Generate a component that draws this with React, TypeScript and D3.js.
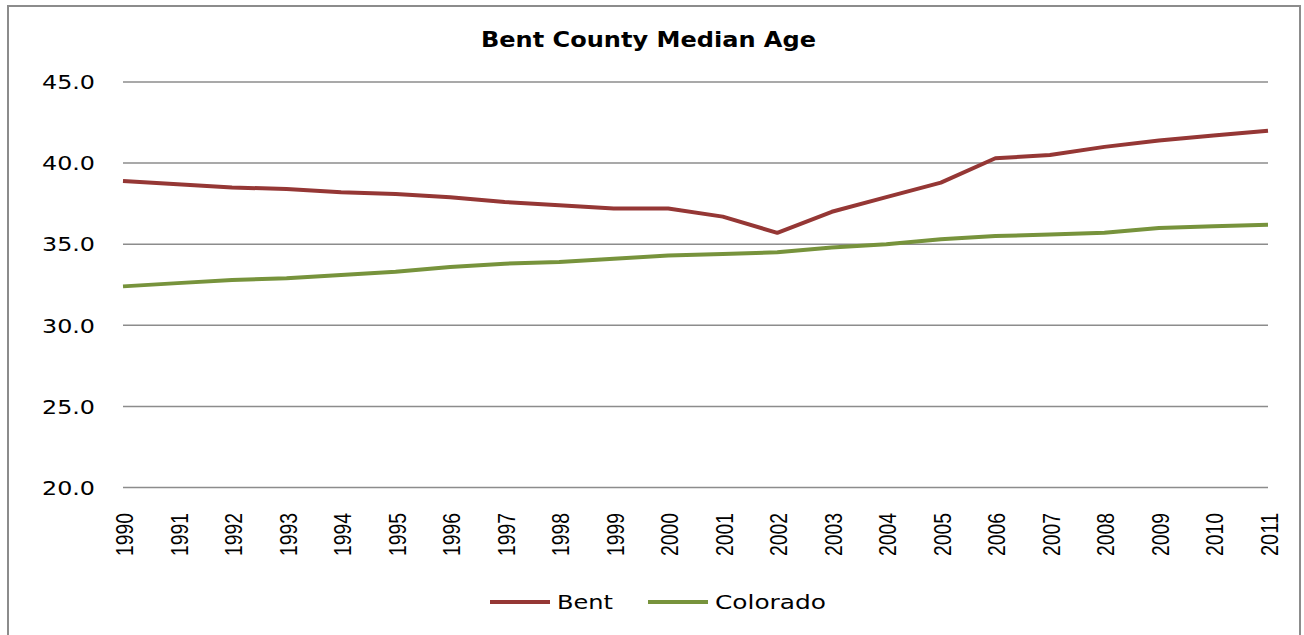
import React from 'react';
import * as d3 from 'd3';

const years = [
  1990, 1991, 1992, 1993, 1994, 1995, 1996, 1997, 1998, 1999, 2000, 2001,
  2002, 2003, 2004, 2005, 2006, 2007, 2008, 2009, 2010, 2011,
];
const bent = [
  38.9, 38.7, 38.5, 38.4, 38.2, 38.1, 37.9, 37.6, 37.4, 37.2, 37.2, 36.7,
  35.7, 37.0, 37.9, 38.8, 40.3, 40.5, 41.0, 41.4, 41.7, 42.0,
];
const colorado = [
  32.4, 32.6, 32.8, 32.9, 33.1, 33.3, 33.6, 33.8, 33.9, 34.1, 34.3, 34.4,
  34.5, 34.8, 35.0, 35.3, 35.5, 35.6, 35.7, 36.0, 36.1, 36.2,
];
const yTicks = [20, 25, 30, 35, 40, 45];
const seriesNames = ['Bent', 'Colorado'];
const seriesColors = ['#953735', '#77933c'];

const W = 1304;
const H = 635;
const margin = { top: 82, right: 36, bottom: 148, left: 123 };

const App = () => {
  const x = d3
    .scaleLinear()
    .domain([years[0], years[years.length - 1]])
    .range([margin.left, W - margin.right]);
  const y = d3
    .scaleLinear()
    .domain([20, 45])
    .range([H - margin.bottom + 0.5, margin.top]);

  const line = d3
    .line<number>()
    .x((_, i) => x(years[i]))
    .y((d) => y(d));

  const series = [bent, colorado];
  const legendX = [490, 648];

  return (
    <svg
      width={W}
      height={H}
      style={{ position: 'absolute', left: 0, top: 0, background: '#fff' }}
    >
      {/* chart border */}
      <rect
        x={8}
        y={6}
        width={1292}
        height={H + 10}
        fill="#fff"
        stroke="#8c8c8c"
        strokeWidth={2}
      />

      {/* title */}
      <text
        x={(481 + 816) / 2}
        y={47}
        textAnchor="middle"
        fontFamily="DejaVu Sans"
        fontWeight="bold"
        fontSize={21}
        textLength={335}
        lengthAdjust="spacingAndGlyphs"
        fill="#000"
      >
        Bent County Median Age
      </text>

      {/* gridlines + y labels */}
      {yTicks.map((t) => (
        <g key={t}>
          <line
            x1={margin.left}
            x2={W - margin.right}
            y1={y(t)}
            y2={y(t)}
            stroke="#8c8c8c"
            strokeWidth={1.5}
          />
          <text
            x={95}
            y={y(t)}
            dy="0.36em"
            textAnchor="end"
            fontFamily="DejaVu Sans"
            fontSize={20}
            textLength={53}
            lengthAdjust="spacingAndGlyphs"
            fill="#000"
          >
            {t.toFixed(1)}
          </text>
        </g>
      ))}

      {/* x labels */}
      {years.map((yr) => (
        <text
          key={yr}
          transform={`translate(${x(yr) + 10},513) rotate(-90)`}
          textAnchor="end"
          fontFamily="Liberation Sans Narrow, Liberation Sans, sans-serif"
          fontSize={24}
          textLength={43}
          lengthAdjust="spacingAndGlyphs"
          fill="#000"
        >
          {yr}
        </text>
      ))}

      {/* lines */}
      {series.map((s, i) => (
        <path
          key={seriesNames[i]}
          d={line(s) || ''}
          fill="none"
          stroke={seriesColors[i]}
          strokeWidth={4}
          strokeLinejoin="round"
        />
      ))}

      {/* legend */}
      {seriesNames.map((name, i) => (
        <g key={name} transform={`translate(${legendX[i]},602)`}>
          <line x1={0} x2={60} y1={0} y2={0} stroke={seriesColors[i]} strokeWidth={4} />
          <text
            x={67}
            y={0}
            dy="0.36em"
            fontFamily="DejaVu Sans"
            fontSize={20}
            textLength={name === 'Bent' ? 56 : 111}
            lengthAdjust="spacingAndGlyphs"
            fill="#000"
          >
            {name}
          </text>
        </g>
      ))}
    </svg>
  );
};

export default App;
